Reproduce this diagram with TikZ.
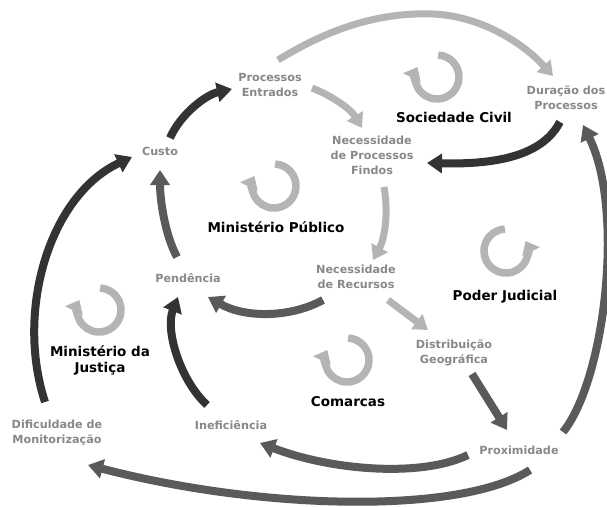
\documentclass[tikz,border=0pt]{standalone}
\usepackage{fontspec}
\setmainfont{DejaVu Sans}
\usetikzlibrary{arrows.meta,calc}
\definecolor{darkc}{HTML}{333333}
\definecolor{midc}{HTML}{5A5A5A}
\definecolor{lightc}{HTML}{B4B4B4}
\definecolor{labc}{HTML}{888888}
\tikzset{
  lab/.style={text=labc,font=\bfseries\fontsize{11.2}{15}\selectfont,align=center,inner sep=1pt},
  grp/.style={text=black,font=\bfseries\fontsize{13.5}{16}\selectfont,align=center,inner sep=1pt},
  conn/.style={line width=8pt,-{Triangle[length=15pt,width=19pt]}},
  darr/.style={conn,draw=darkc},
  marr/.style={conn,draw=midc},
  larr/.style={draw=lightc,line width=7pt,-{Triangle[length=14pt,width=18pt]}},
  icon/.style={draw=lightc,line width=7.5pt,-{Triangle[length=12pt,width=19pt]}},
  cw/.pic={\draw[icon] (-87:22) arc[start angle=-87,end angle=207,radius=22];},
  ccw/.pic={\draw[icon] (-93:22) arc[start angle=-93,end angle=-387,radius=22];}
}
\begin{document}
\begin{tikzpicture}[x=1pt,y=-1pt]
\useasboundingbox (0,0) rectangle (607,506);
\fill[white] (0,0) rectangle (607,506);
% labels
\node[lab] (pe) at (270,85) {Processos\\Entrados};
\node[lab] (custo) at (160,151) {Custo};
\node[lab] (npf) at (372,155) {Necessidade\\de Processos\\Findos};
\node[lab] (dur) at (566,98) {Duração dos\\Processos};
\node[lab] (pend) at (188,278) {Pendência};
\node[lab] (nr) at (356,277) {Necessidade\\de Recursos};
\node[lab] (dist) at (454,353) {Distribuição\\Geográfica};
\node[lab] (prox) at (519,450) {Proximidade};
\node[lab] (inef) at (231,425) {Ineficiência};
\node[lab] (dif) at (57,433) {Dificuldade de\\Monitorização};
% groups
\node[grp] (soc) at (454,117) {Sociedade Civil};
\node[grp] (mp) at (276,227) {Ministério Público};
\node[grp] (pj) at (505,297) {Poder Judicial};
\node[grp] (mj) at (100,360) {Ministério da\\Justiça};
\node[grp] (com) at (348,402) {Comarcas};
% cycle icons
\pic at (437,77) {cw};
\pic at (274,186) {cw};
\pic at (99,310) {cw};
\pic at (347,360) {cw};
\pic at (506,251) {ccw};
% connectors
\draw[darr] ($(custo)+(10,-13)$) .. controls (180,115) and (205,95) .. ($(pe)+(-38,4)$);
\draw[larr] ($(pe)+(8,-25)$) .. controls (330,28) and (380,12) .. (433,14)
   .. controls (480,16) and (522,42) .. ($(dur)+(-13,-22)$);
\draw[larr] ($(pe)+(42,3)$) .. controls (330,95) and (350,108) .. ($(npf)+(-10,-27)$);
\draw[darr] ($(dur)+(-6,24)$) .. controls (545,150) and (510,165) .. ($(npf)+(55,8)$);
\draw[larr] ($(npf)+(12,32)$) .. controls (389,215) and (384,240) .. ($(nr)+(17,-17)$);
\draw[marr] ($(nr)+(-33,23)$) .. controls (290,318) and (245,318) .. ($(pend)+(20,19)$);
\draw[marr] ($(pend)+(-11,-21)$) .. controls (165,235) and (160,200) .. ($(custo)+(0,19)$);
\draw[darr] ($(inef)+(-24,-20)$) .. controls (180,380) and (165,330) .. ($(pend)+(-10,19)$);
\draw[darr] ($(dif)+(-12,-31)$) .. controls (15,310) and (50,195) .. ($(custo)+(-28,6)$);
\draw[larr] ($(nr)+(32,23)$) -- ($(dist)+(-26,-23)$);
\draw[marr] ($(dist)+(18,21)$) -- ($(prox)+(-12,-20)$);
\draw[marr] ($(prox)+(-51,5)$) .. controls (420,478) and (330,470) .. ($(inef)+(29,18)$);
\draw[marr] ($(prox)+(11,20)$) .. controls (460,515) and (260,510) .. ($(dif)+(31,32)$);
\draw[marr] ($(prox)+(44,-18)$) .. controls (605,380) and (625,210) .. ($(dur)+(17,27)$);
\end{tikzpicture}
\end{document}
